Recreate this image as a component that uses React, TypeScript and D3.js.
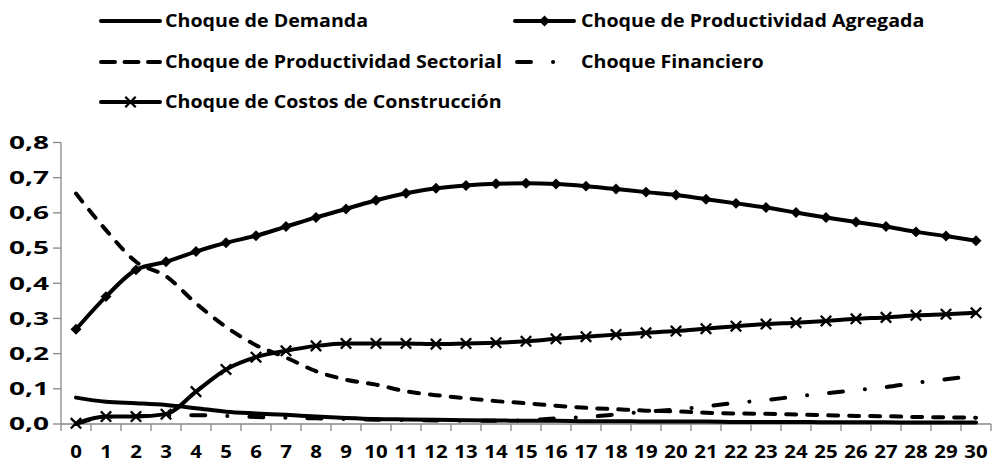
import * as d3 from "d3";

// periods on the x axis
const periods = d3.range(0, 31).map(String);

const demanda = [
  0.075, 0.063, 0.059, 0.054, 0.045, 0.035, 0.03, 0.026, 0.021, 0.017, 0.014,
  0.013, 0.012, 0.011, 0.01, 0.009, 0.009, 0.008, 0.008, 0.007, 0.007, 0.007,
  0.006, 0.006, 0.006, 0.005, 0.005, 0.005, 0.004, 0.004, 0.004,
];
const agregada = [
  0.269, 0.362, 0.438, 0.461, 0.49, 0.515, 0.535, 0.561, 0.587, 0.611, 0.636,
  0.656, 0.67, 0.678, 0.683, 0.684, 0.682, 0.676, 0.668, 0.659, 0.651, 0.639,
  0.627, 0.615, 0.601, 0.587, 0.574, 0.561, 0.546, 0.534, 0.521,
];
const sectorial = [
  0.655, 0.551, 0.461, 0.42, 0.343, 0.276, 0.224, 0.189, 0.15, 0.126, 0.112,
  0.093, 0.082, 0.073, 0.065, 0.059, 0.052, 0.046, 0.042, 0.038, 0.036, 0.032,
  0.03, 0.029, 0.027, 0.025, 0.023, 0.022, 0.02, 0.019, 0.018,
];
const financiero = [
  0.0, 0.02, 0.022, 0.024, 0.025, 0.023, 0.02, 0.018, 0.016, 0.014, 0.012,
  0.011, 0.01, 0.009, 0.009, 0.011, 0.016, 0.02, 0.027, 0.035, 0.041, 0.05,
  0.06, 0.068, 0.078, 0.087, 0.096, 0.105, 0.117, 0.127, 0.138,
];
const costos = [
  0.002, 0.021, 0.021, 0.028, 0.092, 0.155, 0.19, 0.208, 0.222, 0.229, 0.229,
  0.229, 0.227, 0.229, 0.231, 0.235, 0.242, 0.248, 0.254, 0.259, 0.264, 0.271,
  0.278, 0.284, 0.288, 0.293, 0.299, 0.303, 0.309, 0.312, 0.316,
];
const yTicks = [0, 0.1, 0.2, 0.3, 0.4, 0.5, 0.6, 0.7, 0.8];

type Marker = "none" | "diamond" | "x";
const series: { name: string; values: number[]; dash: string; legendDash: string; marker: Marker }[] = [
  { name: "Choque de Demanda", values: demanda, dash: "", legendDash: "", marker: "none" },
  { name: "Choque de Productividad Agregada", values: agregada, dash: "", legendDash: "", marker: "diamond" },
  { name: "Choque de Productividad Sectorial", values: sectorial, dash: "10 11", legendDash: "14 9.5", marker: "none" },
  { name: "Choque Financiero", values: financiero, dash: "14 22 0.1 22", legendDash: "14 22 0.1 22", marker: "none" },
  { name: "Choque de Costos de Construcción", values: costos, dash: "", legendDash: "", marker: "x" },
];

const W = 992;
const H = 464;
const FONT = "'Open Sans', Lato, sans-serif";
const AXIS = "#878787";

function MarkerShape({ type, x, y }: { type: Marker; x: number; y: number }) {
  if (type === "diamond") {
    const p = d3.symbol(d3.symbolSquare, 60)();
    return <path d={p || ""} transform={`translate(${x},${y}) rotate(45)`} fill="#000" />;
  }
  if (type === "x") {
    const r = 5.2;
    return (
      <path
        d={`M${x - r},${y - r}L${x + r},${y + r}M${x - r},${y + r}L${x + r},${y - r}`}
        stroke="#000"
        strokeWidth={2.3}
      />
    );
  }
  return null;
}

function Label({ x, y, text, anchor = "start", sx }: { x: number; y: number; text: string; anchor?: string; sx: number }) {
  return (
    <text
      transform={`translate(${x},${y}) scale(${sx},1)`}
      textAnchor={anchor}
      fontFamily={FONT}
      fontWeight="bold"
      fontSize={17}
      fill="#000"
    >
      {text}
    </text>
  );
}

export default function App() {
  const x = d3.scaleBand().domain(periods).range([61, 991]).padding(0);
  const y = d3.scaleLinear().domain([0, 0.8]).range([424, 142.5]);
  const cx = (i: number) => (x(periods[i]) ?? 0) + x.bandwidth() / 2;

  const line = d3
    .line<number>()
    .x((_, i) => cx(i))
    .y((d) => y(d))
    .curve(d3.curveMonotoneX);

  // legend slots: [lineStart, lineEnd, textX, centerY]
  const legendPos = [
    [99, 162, 165, 21],
    [513, 576, 581, 21],
    [99, 162, 165, 62],
    [515, 577.1, 581, 62],
    [99, 162, 165, 102],
  ];

  return (
    <svg width={W} height={H} style={{ position: "absolute", left: 0, top: 0, background: "#fff" }}>
      {/* legend */}
      {series.map((s, k) => {
        const [a, b, tx, cy] = legendPos[k];
        return (
          <g key={s.name}>
            <line
              x1={a + 2}
              x2={b - 2}
              y1={cy}
              y2={cy}
              stroke="#000"
              strokeWidth={4}
              strokeDasharray={s.legendDash || undefined}
              strokeLinecap="round"
            />
            <MarkerShape type={s.marker} x={(a + b) / 2} y={cy} />
            <Label x={tx} y={cy + 6.2} text={s.name} sx={1.155} />
          </g>
        );
      })}

      {/* y axis */}
      <line x1={61} x2={61} y1={y(0.8)} y2={y(0)} stroke={AXIS} strokeWidth={1.3} />
      {yTicks.map((t) => (
        <g key={t}>
          <line x1={53} x2={61} y1={y(t)} y2={y(t)} stroke={AXIS} strokeWidth={1.3} />
          <Label x={49} y={y(t) + 6.3} text={d3.format(".1f")(t).replace(".", ",")} anchor="end" sx={1.65} />
        </g>
      ))}

      {/* x axis */}
      <line x1={61} x2={991} y1={y(0)} y2={y(0)} stroke={AXIS} strokeWidth={1.3} />
      {periods.map((p) => (
        <line key={"t" + p} x1={x(p)} x2={x(p)} y1={y(0)} y2={y(0) + 7} stroke={AXIS} strokeWidth={1.3} />
      ))}
      <line x1={991} x2={991} y1={y(0)} y2={y(0) + 7} stroke={AXIS} strokeWidth={1.3} />
      {periods.map((p, i) => (
        <Label key={"l" + p} x={cx(i)} y={458} text={p} anchor="middle" sx={1.2} />
      ))}

      {/* series */}
      {series.map((s) => (
        <g key={"s" + s.name}>
          <path
            d={line(s.values) || ""}
            fill="none"
            stroke="#000"
            strokeWidth={4}
            strokeDasharray={s.dash || undefined}
            strokeLinecap="round"
            strokeLinejoin="round"
          />
          {s.values.map((v, i) => (
            <MarkerShape key={i} type={s.marker} x={cx(i)} y={y(v)} />
          ))}
        </g>
      ))}
    </svg>
  );
}
